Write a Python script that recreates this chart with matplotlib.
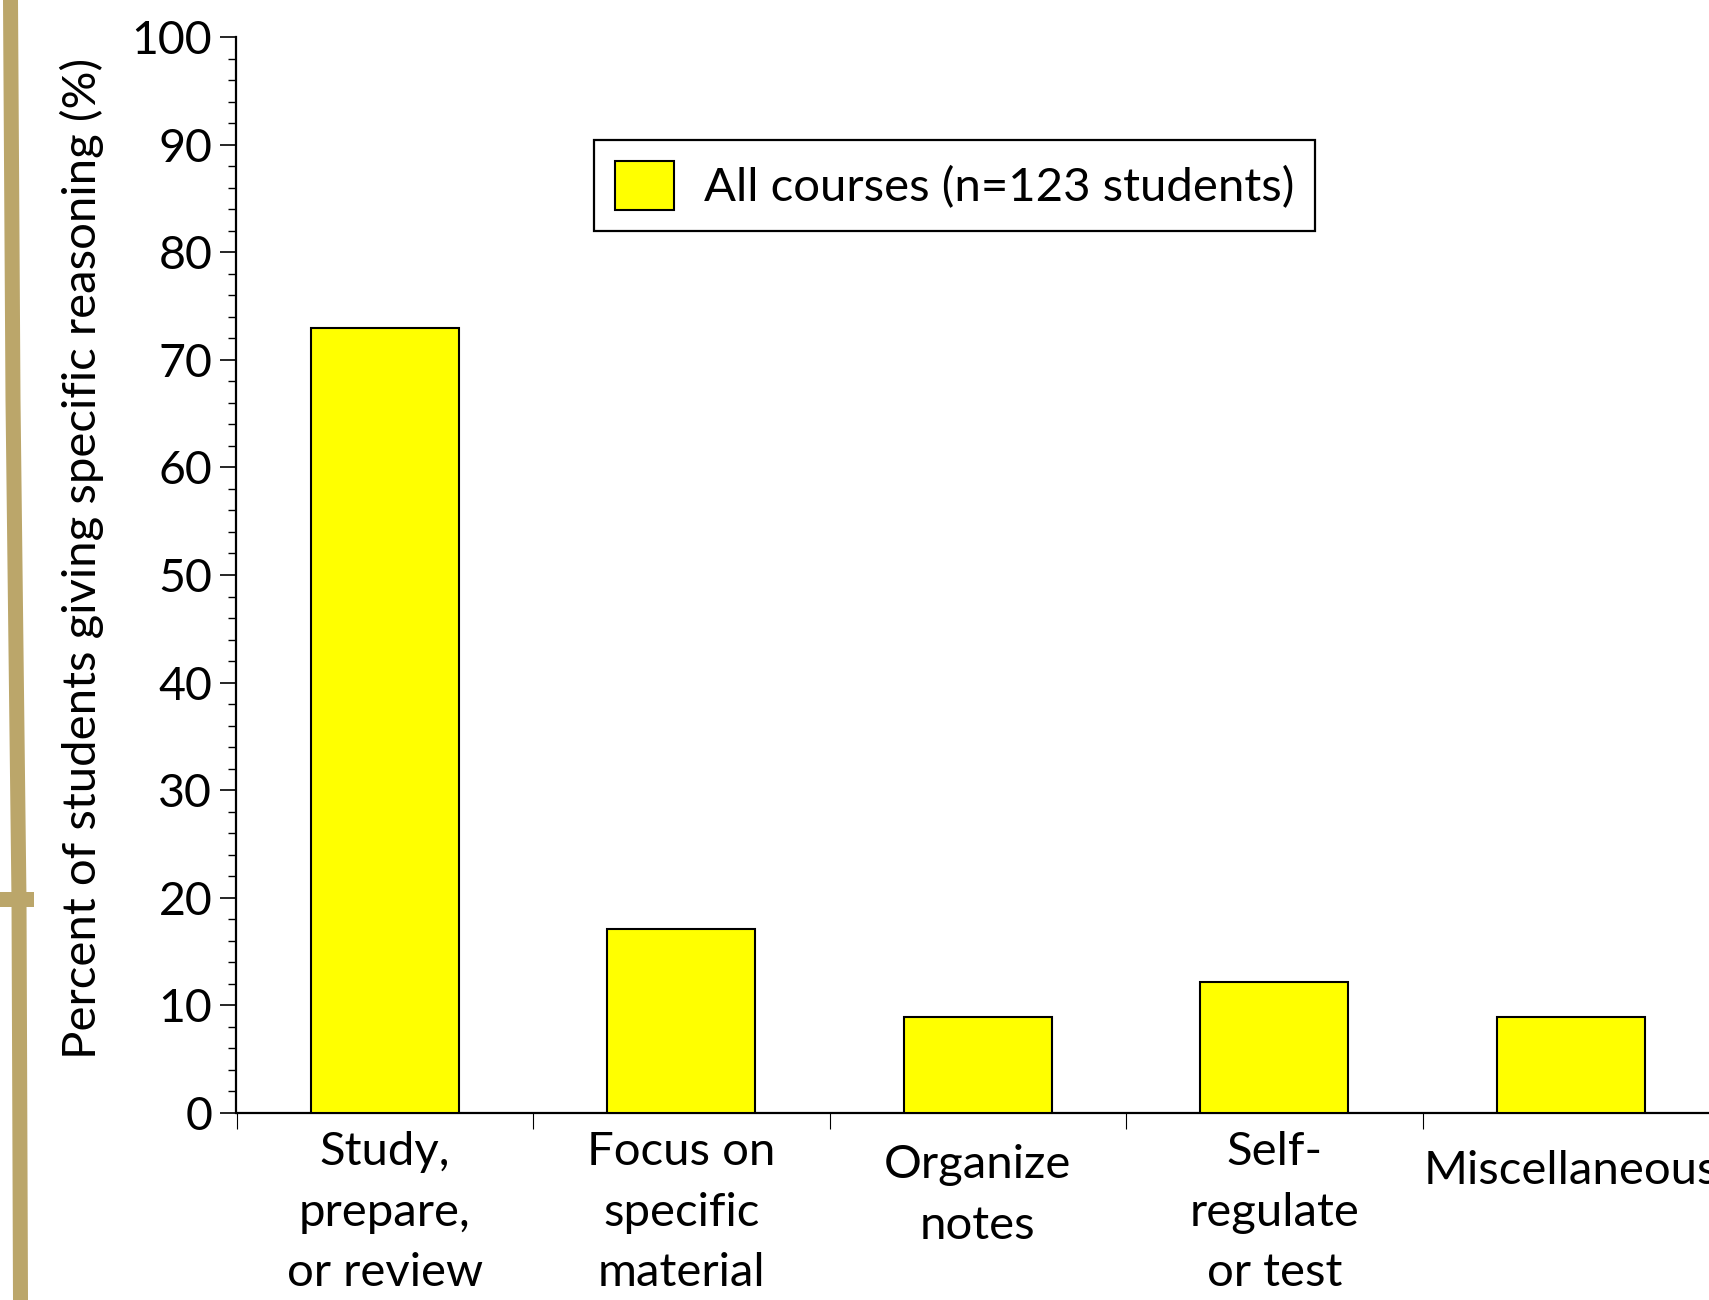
import matplotlib
matplotlib.use('Agg')
import matplotlib.pyplot as plt
from matplotlib.lines import Line2D
from matplotlib.ticker import MultipleLocator
import matplotlib.transforms as mtransforms

# data
categories = ['Study,\nprepare,\nor review', 'Focus on\nspecific\nmaterial',
              'Organize\nnotes', 'Self-\nregulate\nor test', 'Miscellaneous']
percents = [73.0, 17.1, 8.9, 12.2, 8.9]
series_label = 'All courses (n=123 students)'
y_label = 'Percent of students giving specific reasoning (%)'

plt.rcParams['font.family'] = ['Lato', 'DejaVu Sans']
FS = 34

W, H = 1709, 1300
fig = plt.figure(figsize=(W / 100, H / 100), dpi=100)
# axes extend a bit past the right edge, as in the original slide
ax = fig.add_axes([236.5 / W, 187 / H, 1482.5 / W, 1076 / H])

x = list(range(len(categories)))
ax.bar(x, percents, width=0.5, color='#ffff00', edgecolor='black',
       linewidth=1.5, label=series_label, zorder=3)

ax.set_xlim(-0.5, len(categories) - 0.5)
ax.set_ylim(0, 100)
ax.yaxis.set_major_locator(MultipleLocator(10))
ax.yaxis.set_minor_locator(MultipleLocator(2))
ax.tick_params(axis='y', which='major', length=11.5, width=1.2, labelsize=33.5, pad=6)
ax.tick_params(axis='y', which='minor', length=5.8, width=1.0)

ax.set_xticks([i - 0.5 for i in range(len(categories) + 1)])
ax.set_xticklabels([])
ax.tick_params(axis='x', which='major', direction='out', length=11.5, width=0.8)

for side in ('top', 'right'):
    ax.spines[side].set_visible(False)
for side in ('left', 'bottom'):
    ax.spines[side].set_linewidth(1.6)

# category labels under the axis (top of text, px from figure top, by line count)
label_top = {1: 1150, 2: 1144, 3: 1131}
trans = mtransforms.blended_transform_factory(ax.transData, fig.transFigure)
for i, lab in enumerate(categories):
    n = lab.count('\n') + 1
    ax.text(i, 1 - label_top[n] / H, lab, transform=trans,
            ha='center', va='top', fontsize=FS, linespacing=1.55,
            multialignment='center')

fig.text(82 / W, 1 - 558 / H, y_label, rotation=90, ha='center', va='center',
         fontsize=FS)

leg = ax.legend(loc='upper left', bbox_to_anchor=(594 / W, 1 - 139.5 / H),
                bbox_transform=fig.transFigure, borderaxespad=0, fontsize=FS,
                handlelength=1.25, handleheight=1.22, handletextpad=0.62,
                borderpad=0.45, fancybox=False, framealpha=1)
leg.get_frame().set_edgecolor('black')
leg.get_frame().set_linewidth(1.6)

# decorative slide border on the left
tan = '#bba66a'
fig.add_artist(Line2D([10.5 / W, 13 / W, 19 / W, 20.5 / W],
                      [1, 1 - 400 / H, 1 - 900 / H, 0],
                      transform=fig.transFigure, color=tan, linewidth=10.8))
fig.add_artist(Line2D([0, 26 / W], [1 - 899 / H, 1 - 899 / H],
                      transform=fig.transFigure, color=tan, linewidth=10.8))

fig.savefig('out.png', dpi=100)
